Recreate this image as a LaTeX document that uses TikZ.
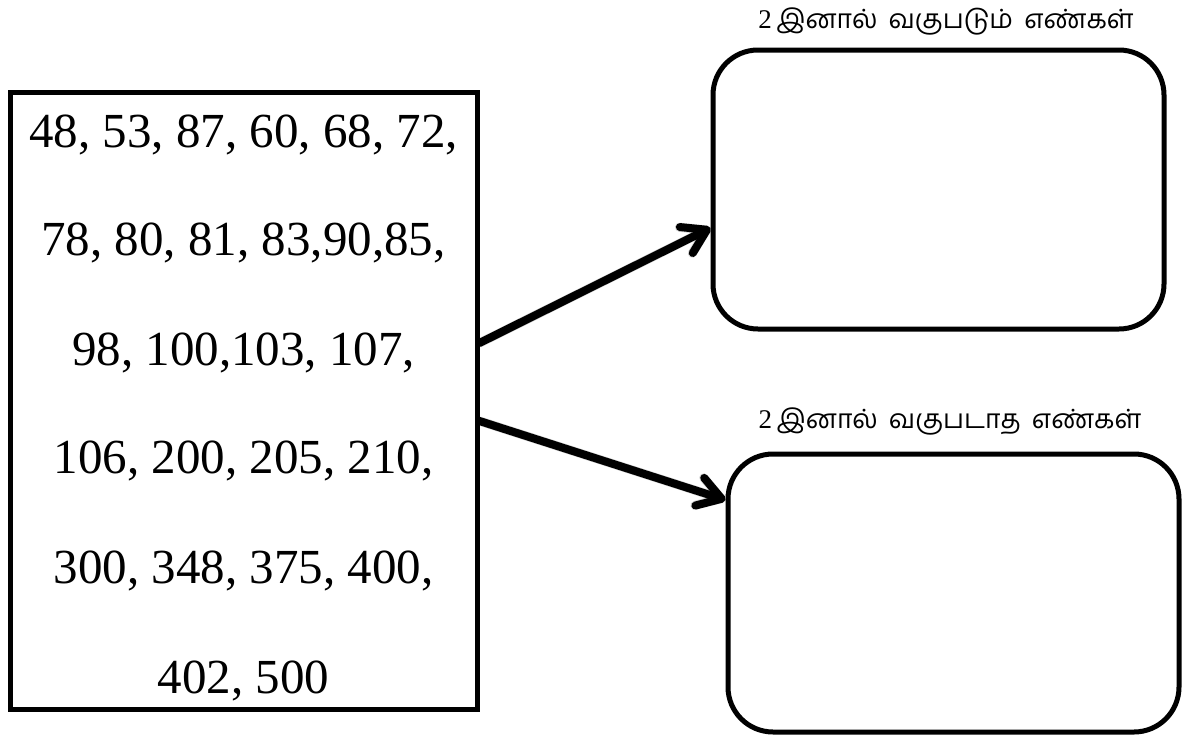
\documentclass[tikz,border=0pt]{standalone}
\usepackage{fontspec}
\setmainfont{Liberation Serif}
\newfontfamily\tamil[Script=Tamil]{Hind Madurai}
\usetikzlibrary{arrows.meta}

\tikzset{
  listbox/.style={draw, line width=5pt, rectangle, inner sep=0pt},
  roundbox/.style={draw, line width=5pt, rectangle, rounded corners=45pt, inner sep=0pt},
  numline/.style={anchor=base, inner sep=0pt, font=\fontsize{49pt}{49pt}\selectfont},
  caption/.style={anchor=base, inner sep=0pt, font=\fontsize{27pt}{27pt}\selectfont},
  bigarrow/.style={line width=8pt, line cap=round,
    -{Straight Barb[length=23pt, width=29pt, round]}},
  arrowshade/.style={bigarrow, black, opacity=0.18, line width=9pt}
}
\newcommand\tamilwords[1]{{\tamil\fontsize{26.5pt}{27pt}\selectfont #1}}

\begin{document}
\begin{tikzpicture}[x=1pt, y=-1pt]
  \useasboundingbox (0,0) rectangle (1200,734);

  % list of numbers
  \node[listbox, minimum width=467pt, minimum height=617pt] (lst) at (243.5,400.5) {};
  \node[numline] (n1) at (243.5,147) {48, 53, 87, 60, 68, 72,};
  \node[numline] (n2) at (243.5,255) {78, 80, 81, 83,90,85,};
  \node[numline] (n3) at (243.5,365) {98, 100,103, 107,};
  \node[numline] (n4) at (243.5,473) {106, 200, 205, 210,};
  \node[numline] (n5) at (243.5,583) {300, 348, 375, 400,};
  \node[numline] (n6) at (243.5,693) {402, 500};

  % the two empty answer boxes
  \node[roundbox, minimum width=451pt, minimum height=279pt] (even) at (938.5,189.5) {};
  \node[roundbox, minimum width=451pt, minimum height=278pt] (odd) at (953.5,593) {};

  % captions above the boxes
  \node[caption] (evencap) at (946,28) {2\,\tamilwords{இனால்\hspace{0.42em}வகுபடும்\hspace{0.42em}எண்கள்}};
  \node[caption] (oddcap) at (950,428) {2\,\tamilwords{இனால்\hspace{0.42em}வகுபடாத\hspace{0.42em}எண்கள்}};

  % soft shadows under the arrows
  \begin{scope}[shift={(2.5,3.5)}]
    \draw[arrowshade] ([yshift=57.5pt]lst.east) -- ([yshift=-38.5pt]even.west);
    \draw[arrowshade] ([yshift=-20.5pt]lst.east) -- ([yshift=93pt]odd.west);
  \end{scope}

  % arrows
  \draw[bigarrow] ([yshift=57.5pt]lst.east) -- ([yshift=-38.5pt]even.west);
  \draw[bigarrow] ([yshift=-20.5pt]lst.east) -- ([yshift=93pt]odd.west);
\end{tikzpicture}
\end{document}
